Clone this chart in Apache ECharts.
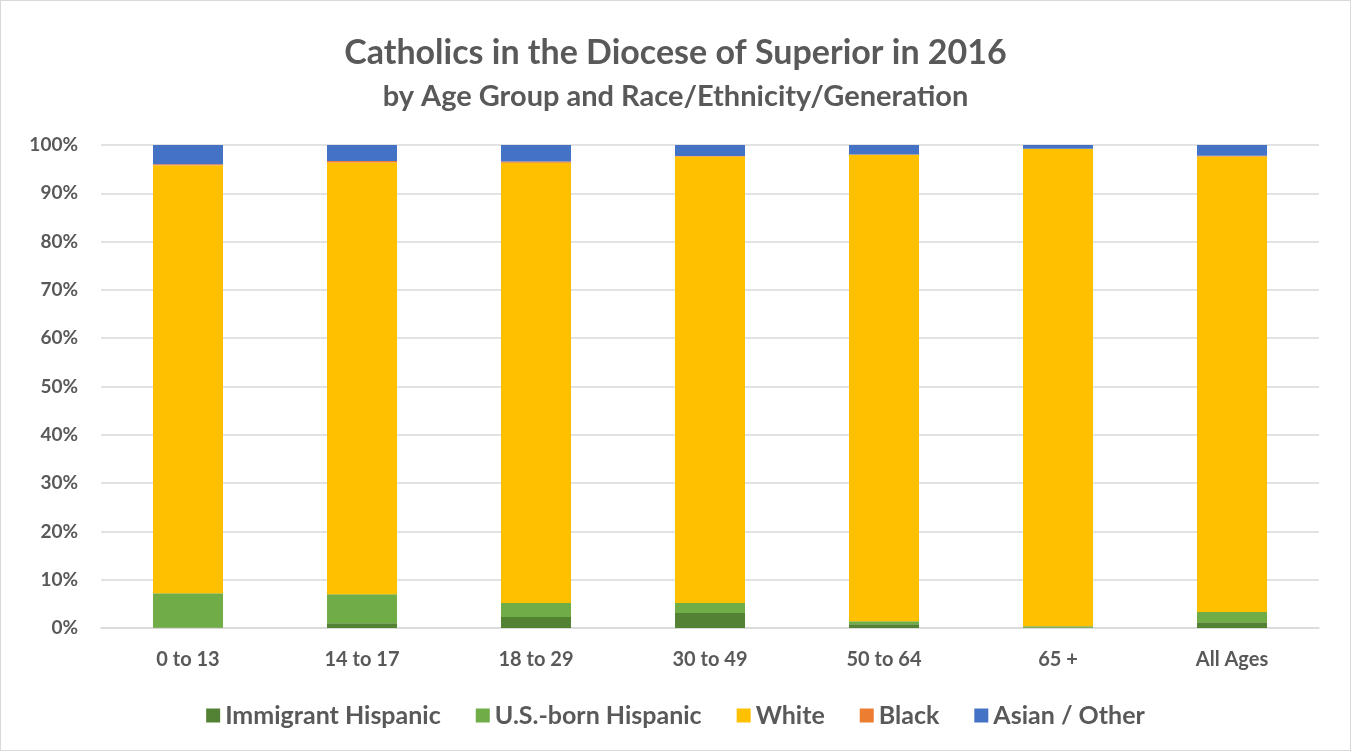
<!DOCTYPE html>
<html>
<head>
<meta charset="utf-8">
<script src="https://cdn.jsdelivr.net/npm/echarts@6/dist/echarts.min.js"></script>
<style>
html,body{margin:0;padding:0;background:#fff;}
#c{width:1351px;height:751px;box-sizing:border-box;border:1px solid #d9d9d9;}
</style>
</head>
<body>
<div id="c"></div>
<script>
const categories = ['0 to 13','14 to 17','18 to 29','30 to 49','50 to 64','65 +','All Ages'];
const immigrantHispanic = [0.1, 1.0, 2.3, 3.1, 0.8, 0.1, 1.2];
const usBornHispanic    = [7.1, 6.0, 2.9, 2.1, 0.6, 0.25, 2.1];
const white             = [88.6, 89.4, 91.1, 92.4, 96.6, 98.85, 94.3];
const black             = [0.2, 0.3, 0.3, 0.1, 0.05, 0.0, 0.2];
const asianOther        = [4.0, 3.3, 3.4, 2.3, 1.95, 0.8, 2.2];
const seriesNames = ['Immigrant Hispanic','U.S.-born Hispanic','White','Black','Asian / Other'];
const seriesColors = ['#548235','#70AD47','#FFC000','#ED7D31','#4472C4'];
const seriesData = [immigrantHispanic, usBornHispanic, white, black, asianOther];

const font = 'Lato, "Open Sans", sans-serif';
const chart = echarts.init(document.getElementById('c'));
chart.setOption({
  animation: false,
  title: [
    {text: 'Catholics in the Diocese of Superior in 2016', left: 'center', top: 30,
     textStyle: {fontFamily: font, fontSize: 34, fontWeight: 'bold', color: '#595959'}},
    {text: 'by Age Group and Race/Ethnicity/Generation', left: 'center', top: 76,
     textStyle: {fontFamily: font, fontSize: 29, fontWeight: 'bold', color: '#595959'}}
  ],
  legend: {
    top: 697, left: 'center', itemWidth: 14, itemHeight: 14, itemGap: 35,
    icon: 'rect',
    textStyle: {fontFamily: font, fontSize: 25, fontWeight: 'bold', color: '#595959'},
    data: seriesNames
  },
  grid: {left: 100, right: 31, top: 144, bottom: 122},
  xAxis: {
    type: 'category', data: categories,
    axisLine: {lineStyle: {color: '#d9d9d9', width: 1.5}},
    axisTick: {show: false},
    axisLabel: {fontFamily: font, fontSize: 20, fontWeight: 'bold', color: '#595959', margin: 22}
  },
  yAxis: {
    type: 'value', min: 0, max: 100, interval: 10,
    axisLine: {show: false}, axisTick: {show: false},
    splitLine: {lineStyle: {color: '#d9d9d9', width: 1.5}},
    axisLabel: {fontFamily: font, fontSize: 19, fontWeight: 'bold', color: '#595959', margin: 23,
      formatter: v => v + '%'}
  },
  series: seriesNames.map((n, i) => ({
    name: n, type: 'bar', stack: 'total', barWidth: 70,
    itemStyle: {color: seriesColors[i]},
    data: seriesData[i]
  }))
});
</script>
</body>
</html>
